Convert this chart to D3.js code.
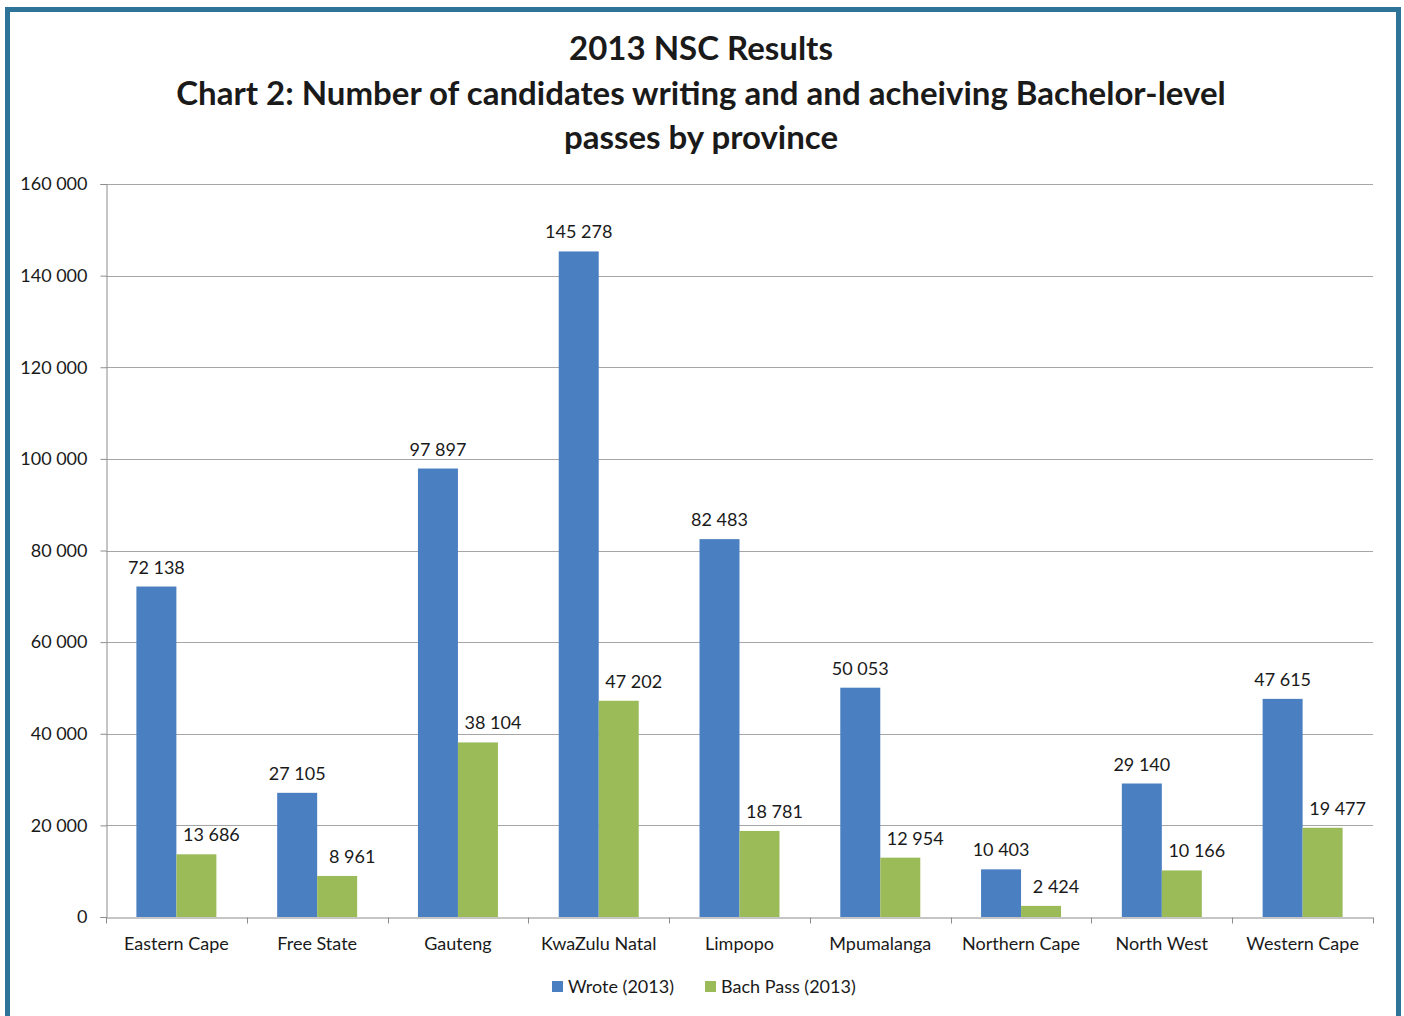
<!DOCTYPE html>
<html>
<head>
<meta charset="utf-8">
<script src="https://cdn.jsdelivr.net/npm/d3@7"></script>
<style>
  html, body { margin: 0; padding: 0; background: #fff; }
  svg { display: block; }
  text { font-family: Lato, "Open Sans", sans-serif; fill: #1a1a1a; }
</style>
</head>
<body>
<div id="chart"></div>
<script>
const provinces = ["Eastern Cape", "Free State", "Gauteng", "KwaZulu Natal", "Limpopo",
  "Mpumalanga", "Northern Cape", "North West", "Western Cape"];
const wrote = [72138, 27105, 97897, 145278, 82483, 50053, 10403, 29140, 47615];
const bachPass = [13686, 8961, 38104, 47202, 18781, 12954, 2424, 10166, 19477];
const seriesNames = ["Wrote (2013)", "Bach Pass (2013)"];
const yTicks = [0, 20000, 40000, 60000, 80000, 100000, 120000, 140000, 160000];
const titleLines = ["2013 NSC Results",
  "Chart 2: Number of candidates writing and and acheiving Bachelor-level",
  "passes by province"];

const width = 1404, height = 1016;
const colors = ["#4a7fc1", "#9bbb59"];
const margin = { top: 184, right: 31, bottom: 99, left: 106 };

const svg = d3.select('#chart')
  .append('svg')
    .attr('width', width)
    .attr('height', height);

// frame
svg.append('rect')
    .attr('x', 7.5)
    .attr('y', 9.5)
    .attr('width', 1391)
    .attr('height', 1030)
    .attr('fill', 'none')
    .attr('stroke', '#2e7398')
    .attr('stroke-width', 5);

// title
svg.append('g')
  .selectAll('text')
  .data(titleLines)
  .join('text')
    .attr('x', 701)
    .attr('y', (d, i) => 60 + i * 44.5)
    .attr('text-anchor', 'middle')
    .attr('font-size', 33)
    .attr('font-weight', 'bold')
    .text(d => d);

const x0 = d3.scaleBand()
  .domain(provinces)
  .range([margin.left, width - margin.right]);

const x1 = d3.scaleBand()
  .domain([0, 1])
  .range([0, x0.bandwidth()])
  .paddingOuter(0.76);

const y = d3.scaleLinear()
  .domain([0, 160000])
  .range([height - margin.bottom, margin.top]);

const fmt = v => d3.format(',')(v).replace(/,/g, ' ');

// grid
svg.append('g')
  .selectAll('line')
  .data(yTicks.slice(1))
  .join('line')
    .attr('x1', margin.left)
    .attr('x2', width - margin.right)
    .attr('y1', d => Math.round(y(d)) + 0.5)
    .attr('y2', d => Math.round(y(d)) + 0.5)
    .attr('stroke', '#a6a6a6')
    .attr('stroke-width', 1);

// y axis
const yAxis = svg.append('g')
    .attr('transform', `translate(${margin.left + 0.5},0)`)
    .call(d3.axisLeft(y).tickValues(yTicks).tickFormat(fmt).tickSize(6).tickPadding(13));
yAxis.selectAll('text').attr('font-size', 18).attr('fill', '#1a1a1a').attr('font-family', 'Lato, sans-serif');
yAxis.selectAll('line, path').attr('stroke', '#8c8c8c');

// bars
const groups = svg.append('g')
  .selectAll('g')
  .data(provinces)
  .join('g')
    .attr('transform', d => `translate(${x0(d)},0)`);

const series = [wrote, bachPass];
groups.selectAll('rect')
  .data((d, i) => series.map((s, k) => ({ k, v: s[i] })))
  .join('rect')
    .attr('x', d => x1(d.k))
    .attr('y', d => y(d.v))
    .attr('width', x1.bandwidth())
    .attr('height', d => y(0) - y(d.v))
    .attr('fill', d => colors[d.k]);

groups.selectAll('text.value')
  .data((d, i) => series.map((s, k) => ({ k, v: s[i] })))
  .join('text')
    .attr('class', 'value')
    .attr('x', d => x1(d.k) + x1.bandwidth() / 2 + (d.k === 1 ? 15 : 0))
    .attr('y', d => y(d.v) - 13)
    .attr('text-anchor', 'middle')
    .attr('font-size', 18)
    .text(d => fmt(d.v));

// x axis
const xAxis = svg.append('g')
    .attr('transform', `translate(0,${height - margin.bottom + 0.5})`)
    .call(d3.axisBottom(x0).tickSize(0).tickPadding(20));
xAxis.selectAll('text').attr('font-size', 18).attr('fill', '#1a1a1a').attr('font-family', 'Lato, sans-serif');
xAxis.select('path').attr('stroke', '#8c8c8c');
xAxis.selectAll('line.sep')
  .data(provinces.map(p => x0(p)).concat([width - margin.right]))
  .join('line')
    .attr('class', 'sep')
    .attr('x1', d => Math.round(d) + 0.5)
    .attr('x2', d => Math.round(d) + 0.5)
    .attr('y1', 0)
    .attr('y2', 6)
    .attr('stroke', '#8c8c8c');

// legend
const legend = svg.append('g')
  .selectAll('g')
  .data(seriesNames)
  .join('g')
    .attr('transform', (d, i) => `translate(${552 + i * 153},981)`);
legend.append('rect')
    .attr('width', 11)
    .attr('height', 11)
    .attr('fill', (d, i) => colors[i]);
legend.append('text')
    .attr('x', 16)
    .attr('y', 12)
    .attr('font-size', 18)
    .text(d => d);
</script>
</body>
</html>
